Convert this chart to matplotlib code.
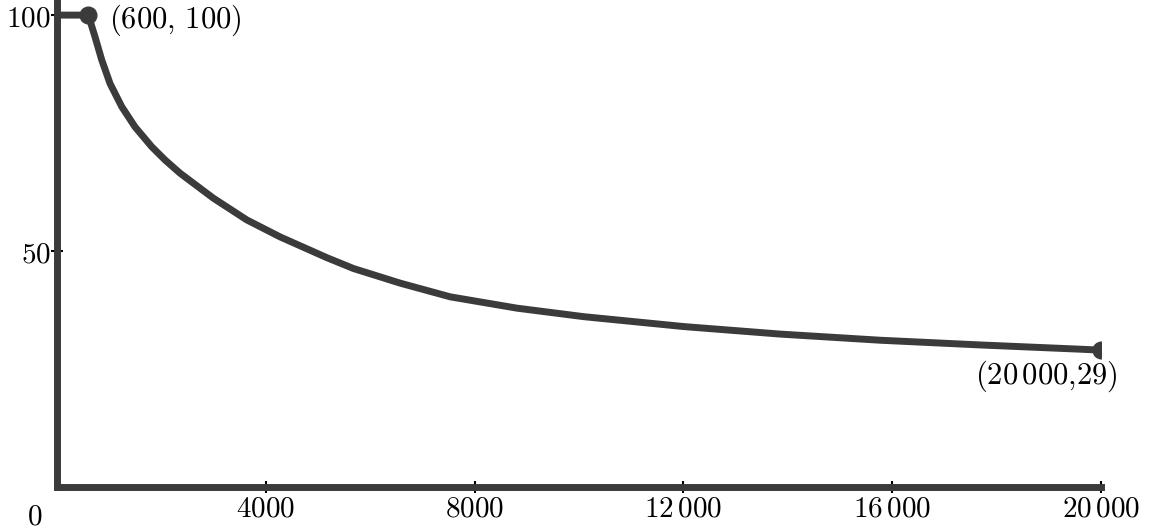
import numpy as np
import matplotlib
matplotlib.use("Agg")
import matplotlib.pyplot as plt

plt.rcParams['mathtext.fontset'] = 'cm'
plt.rcParams['font.family'] = 'serif'
plt.rcParams['font.serif'] = ['DejaVu Serif']

# values
x = [0, 600, 728, 857, 1016, 1240, 1495, 1815, 2070, 2357, 2996, 3636,
     4274, 5169, 5679, 6574, 7532, 8811, 10087, 12004, 13858, 15774,
     17690, 19607, 20000]
y = [100, 100, 95.4, 90.5, 85.5, 80.6, 76.3, 72.1, 69.3, 66.5, 61.2, 56.6,
     53.0, 48.6, 46.3, 43.2, 40.3, 37.9, 36.1, 34.0, 32.4, 31.1,
     30.1, 29.2, 29]

x_ticks = [4000, 8000, 12000, 16000, 20000]
x_tick_labels = [r'$4000$', r'$8000$', r'$12\,000$', r'$16\,000$', r'$20\,000$']
y_ticks = [50, 100]
y_tick_labels = [r'$50$', r'$100$']

points_x = [600, 20000]
points_y = [100, 29]
point_labels = [r'$(600,\, 100)$', r'$(20\,000{,}29)$']

col = '#3b3b3b'

fig = plt.figure(figsize=(11.54, 5.32), dpi=100)
ax = fig.add_axes([57 / 1154, 45 / 532, 1044 / 1154, 487 / 532])

ax.plot(x, y, color=col, lw=5, solid_capstyle='round', solid_joinstyle='round', zorder=3)
ax.plot(points_x, points_y, 'o', color=col, ms=12, zorder=4)

ax.set_xlim(0, 20000)
ax.set_ylim(0, 103.2)

for s in ['top', 'right']:
    ax.spines[s].set_visible(False)
for s in ['left', 'bottom']:
    ax.spines[s].set_linewidth(5)
    ax.spines[s].set_color(col)
    ax.spines[s].set_capstyle('projecting')

ax.set_xticks(x_ticks)
ax.set_xticklabels(x_tick_labels, fontsize=21)
ax.set_yticks(y_ticks)
ax.set_yticklabels(y_tick_labels, fontsize=21)
ax.tick_params(axis='both', direction='inout', length=9, width=1.5, color='black')
ax.tick_params(axis='x', pad=1)
ax.tick_params(axis='y', pad=0)

ax.text(-0.021, -0.06, r'$0$', transform=ax.transAxes, fontsize=21,
        ha='center', va='center')

ax.annotate(point_labels[0], (points_x[0], points_y[0]), xytext=(15, -4),
            textcoords='offset points', fontsize=22, ha='left', va='center')
ax.annotate(point_labels[1], (points_x[1], points_y[1]), xytext=(12, -19),
            textcoords='offset points', fontsize=22, ha='right', va='center')

fig.savefig('out.png', dpi=100)
